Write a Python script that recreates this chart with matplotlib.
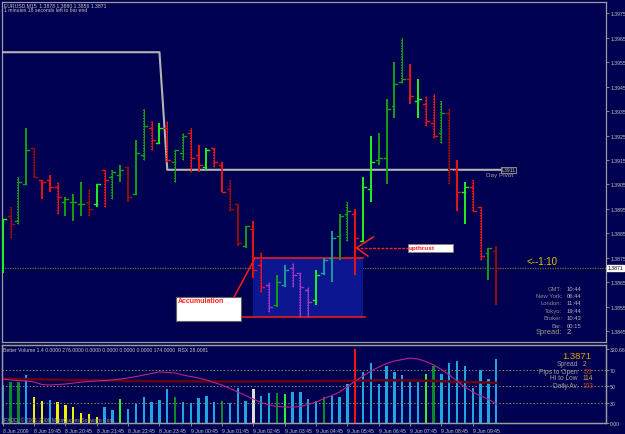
import numpy as np
import matplotlib.pyplot as plt
from matplotlib.patches import Rectangle

plt.rcParams['font.family'] = ['Liberation Sans', 'DejaVu Sans']

W, H = 625, 435
BG = '#000050'
FRAME = '#9c9c9c'
TXT = '#c4c4c4'

# EURUSD M15, 8 Jun 2009 18:45 .. 9 Jun 10:30 (one bar per 15 min)
opens = [1.3872, 1.3892, 1.3890, 1.3905, 1.3920, 1.3907, 1.3907, 1.3904, 1.3898, 1.3898,
         1.3897, 1.3898, 1.3897, 1.3911, 1.3908, 1.3909, 1.3912, 1.3901, 1.3917, 1.3928,
         1.3922, 1.3928, 1.3914, 1.3918, 1.3926, 1.3917, 1.3912, 1.3920, 1.3913, 1.3903,
         1.3897, 1.3880, 1.3887, 1.3872, 1.3864, 1.3856, 1.3864, 1.3871, 1.3869, 1.3862,
         1.3858, 1.3869, 1.3875, 1.3884, 1.3893, 1.3893, 1.3882, 1.3903, 1.3915, 1.3916,
         1.3937, 1.3947, 1.3948, 1.3939, 1.3938, 1.3930, 1.3926, 1.3934, 1.3911, 1.3902,
         1.3904, 1.3896, 1.3877, 1.3878]
highs = [1.3891, 1.3896, 1.3908, 1.3928, 1.3920, 1.3907, 1.3909, 1.3906, 1.3900, 1.3901,
         1.3906, 1.3903, 1.3905, 1.3911, 1.3911, 1.3913, 1.3912, 1.3923, 1.3936, 1.3931,
         1.3930, 1.3931, 1.3919, 1.3926, 1.3928, 1.3921, 1.3920, 1.3920, 1.3914, 1.3907,
         1.3897, 1.3888, 1.3890, 1.3877, 1.3865, 1.3868, 1.3872, 1.3873, 1.3869, 1.3863,
         1.3870, 1.3875, 1.3886, 1.3893, 1.3898, 1.3895, 1.3908, 1.3925, 1.3926, 1.3940,
         1.3955, 1.3965, 1.3954, 1.3948, 1.3941, 1.3942, 1.3939, 1.3936, 1.3915, 1.3906,
         1.3907, 1.3896, 1.3879, 1.3880]
lows = [1.3869, 1.3883, 1.3889, 1.3905, 1.3908, 1.3899, 1.3902, 1.3893, 1.3892, 1.3890,
        1.3892, 1.3892, 1.3896, 1.3896, 1.3899, 1.3906, 1.3898, 1.3901, 1.3915, 1.3919,
        1.3922, 1.3914, 1.3906, 1.3915, 1.3910, 1.3910, 1.3911, 1.3912, 1.3902, 1.3894,
        1.3880, 1.3879, 1.3867, 1.3861, 1.3853, 1.3855, 1.3863, 1.3863, 1.3851, 1.3851,
        1.3856, 1.3868, 1.3865, 1.3874, 1.3882, 1.3868, 1.3882, 1.3898, 1.3913, 1.3905,
        1.3932, 1.3947, 1.3938, 1.3932, 1.3929, 1.3924, 1.3922, 1.3905, 1.3894, 1.3889,
        1.3894, 1.3874, 1.3866, 1.3856]
closes = [1.3891, 1.3889, 1.3906, 1.3919, 1.3908, 1.3906, 1.3904, 1.3900, 1.3899, 1.3898,
          1.3897, 1.3895, 1.3905, 1.3907, 1.3910, 1.3911, 1.3900, 1.3918, 1.3929, 1.3923,
          1.3928, 1.3915, 1.3919, 1.3925, 1.3916, 1.3913, 1.3919, 1.3914, 1.3902, 1.3895,
          1.3881, 1.3888, 1.3870, 1.3863, 1.3855, 1.3865, 1.3870, 1.3868, 1.3863, 1.3857,
          1.3868, 1.3874, 1.3883, 1.3892, 1.3894, 1.3883, 1.3904, 1.3914, 1.3916, 1.3936,
          1.3946, 1.3948, 1.3941, 1.3940, 1.3931, 1.3925, 1.3934, 1.3911, 1.3902, 1.3904,
          1.3894, 1.3876, 1.3879, 1.3871]
bar_codes = "LDGGDRRRGG" "GDLRGGDGGR" "LRGGRRLRRD" "DGRRPGTPPP" "LTTGGRLLGG" "GGRLRRGDRL" "RRGD"
bar_dotted = "0110100100" "0101100011" "0111100101" "0001100111" "0000100000" "0100111100" "1100"

volumes = [165, 178, 178, 208, 113, 95, 100, 91, 78, 69,
           43, 39, 26, 69, 56, 104, 61, 82, 113, 91,
           100, 147, 113, 91, 87, 108, 117, 91, 95, 87,
           152, 95, 147, 117, 130, 130, 126, 134, 134, 104,
           95, 113, 117, 113, 169, 320, 221, 260, 169, 247,
           221, 208, 178, 178, 212, 247, 212, 260, 268, 247,
           152, 230, 191, 276]
vol_codes = "CggCYYCYYY" "YYYCCBCCCC" "CCgCCCCCgC" "CCWCCgBCCC" "CgCCCRCCCC" "CCCCBgCCCC" "CCCC"
vol_ma = [192, 192, 191, 190, 190, 189, 188, 188, 187, 186, 186, 185, 185, 184, 184, 183,
          182, 182, 182, 181, 181, 181, 181, 181, 180, 180, 180, 180, 180, 180, 180, 180,
          180, 180, 181, 181, 181, 181, 181, 181, 182, 182, 182, 182, 183, 183, 184, 184,
          185, 185, 185, 185, 184, 184, 183, 182, 181, 180, 179, 178, 177, 176, 175, 174]
rsx = [58.5, 57.3, 56.7, 56.1, 54.8, 51.8, 51.2, 51.8, 52.4, 53.6, 54.8, 55.5, 56.1, 56.7, 57.3, 58.5,
       59.7, 61.5, 63.3, 65.2, 67.0, 66.4, 65.8, 63.3, 61.5, 59.7, 57.3, 54.2, 51.2, 47.0, 42.7, 38.5,
       34.2, 30.0, 27.0, 25.2, 24.5, 24.5, 25.2, 27.6, 30.6, 34.8, 38.5, 42.7, 49.4, 56.1, 62.1, 68.2,
       73.0, 77.3, 80.3, 82.1, 83.9, 82.7, 79.7, 75.5, 70.0, 63.3, 56.1, 48.8, 42.7, 37.9, 34.2, 28.0]
rsx_levels = [30, 50, 70]

pivot_levels = [1.3959, 1.3911]
new_day_bar = 21
zone_bars = [32, 46]
zone_prices = [1.3851, 1.3875]
upthrust_bar = 45

price_ticks = [1.3845, 1.3855, 1.3865, 1.3875, 1.3885, 1.3895, 1.3905,
               1.3915, 1.3925, 1.3935, 1.3945, 1.3955, 1.3965, 1.3975]
time_labels = ["8 Jun 2009", "8 Jun 19:45", "8 Jun 20:45", "8 Jun 21:45", "8 Jun 22:45",
               "8 Jun 23:45", "9 Jun 00:45", "9 Jun 01:45", "9 Jun 02:45", "9 Jun 03:45",
               "9 Jun 04:45", "9 Jun 05:45", "9 Jun 06:45", "9 Jun 07:45", "9 Jun 08:45",
               "9 Jun 09:45"]

bar_palette = {'G': '#149e14', 'L': '#22f022', 'R': '#e81414', 'D': '#960c0c',
               'P': '#9a34c4', 'T': '#1a9a9a'}
vol_palette = {'C': '#1ea6e4', 'g': '#0c8a2c', 'B': '#30f030', 'Y': '#f0f000',
               'R': '#ff1010', 'W': '#dcdcdc'}


def px(x, y):
    return x / W, 1 - y / H


fig = plt.figure(figsize=(W / 100, H / 100), dpi=100, facecolor=BG)
ax = fig.add_axes([2 / W, 1 - 343 / H, 604 / W, 340 / H], facecolor=BG)
vax = fig.add_axes([2 / W, 1 - 424 / H, 604 / W, 78 / H], facecolor=BG)
rax = vax.twinx()

n = len(opens)
idx = np.arange(n)
XL = (-0.1, 77.0)

# ---- main price window
TK = 0.38
for i in idx:
    col = bar_palette[bar_codes[i]]
    if bar_dotted[i] == '1':
        # MT4 draws these half solid, half dotted
        ax.plot([i, i], [lows[i], highs[i]], color=col, lw=0.75, solid_capstyle='butt', zorder=5)
        ax.plot([i, i], [lows[i], highs[i]], color=col, lw=1.4, ls=(0, (0.7, 0.7)), zorder=5)
    else:
        ax.plot([i, i], [lows[i], highs[i]], color=col, lw=1.4, solid_capstyle='butt', zorder=5)
    ax.plot([i - TK, i], [opens[i], opens[i]], color=col, lw=1.0, zorder=5)
    ax.plot([i, i + TK], [closes[i], closes[i]], color=col, lw=1.0, zorder=5)

# accumulation zone
ax.add_patch(Rectangle((zone_bars[0] - 0.06, zone_prices[0]), zone_bars[1] - zone_bars[0],
                       zone_prices[1] - zone_prices[0], facecolor='#0c1690', edgecolor='none',
                       zorder=2))
ax.plot([zone_bars[0] - 0.06, zone_bars[1]], [zone_prices[1]] * 2, color='#ff1a1a', lw=1.1, zorder=3)
ax.plot([30.4, zone_bars[1] + 0.2], [zone_prices[0]] * 2, color='#ff1a1a', lw=1.1, zorder=3)
ax.plot([29.4, 32.2], [1.38583, zone_prices[1]], color='#ff1a1a', lw=1.1, zorder=6)

# current price line
ax.axhline(closes[-1], color='#6c6c40', lw=0.9, ls=(0, (1, 1)), zorder=1)

# day pivot
ax.plot([XL[0], new_day_bar - 1, new_day_bar, 63.6],
        [pivot_levels[0], pivot_levels[0], pivot_levels[1], pivot_levels[1]],
        color='#b4b4b4', lw=1.5, zorder=4)
ax.add_patch(Rectangle((63.6, pivot_levels[1] - 0.00013), 1.9, 0.00025, facecolor='#101040',
                       edgecolor='#9a9a9a', lw=0.6, zorder=6))
ax.text(64.55, pivot_levels[1], '%.4f' % pivot_levels[1], fontsize=3.6, color='#b0b0b0',
        ha='center', va='center', zorder=7)
ax.text(65.2, pivot_levels[1] - 0.0002, 'Day Pivot', fontsize=4.6, color='#a0a0a0',
        ha='right', va='center', zorder=7)

# upthrust arrow + label
tip = 1.38791
ax.plot([upthrust_bar + 0.13, 51.7], [tip, tip], color='#ff2020', lw=1.0, ls=(0, (2, 1)), zorder=6)
ax.plot([47.3, upthrust_bar + 0.13, 46.6], [1.38836, tip, 1.38758], color='#ff2020', lw=1.1, zorder=6)
ax.add_patch(Rectangle((51.7, 1.38774), 5.8, 0.00033, facecolor='white', edgecolor='#808080',
                       lw=0.6, zorder=7))
ax.text(51.85, 1.38792, 'upthrust', fontsize=4.6, color='#ff2020', fontweight='bold',
        ha='left', va='center', zorder=8)

# accumulation label
ax.add_patch(Rectangle((22.1, 1.38493), 8.3, 0.00098, facecolor='white', edgecolor='#606060',
                       lw=0.8, zorder=7))
ax.text(22.3, 1.38575, 'Accumulation', fontsize=5, color='#ff2020', fontweight='bold',
        ha='left', va='center', zorder=8)

ax.text(66.9, 1.38738, '<--1:10', fontsize=7, color='#d8c800', ha='left', va='center')

ax.set_xlim(*XL)
ax.set_ylim(1.38407, 1.39795)
ax.set_xticks([])
ax.yaxis.tick_right()
ax.set_yticks(price_ticks, labels=['%.4f' % p for p in price_ticks])
ax.tick_params(axis='y', length=2, width=0.6, color=FRAME, labelsize=3.7, labelcolor=TXT, pad=1)
ax.text(1.003, closes[-1], '%.4f' % closes[-1], transform=ax.get_yaxis_transform(),
        fontsize=3.7, color='black', ha='left', va='center',
        bbox=dict(boxstyle='square,pad=0.15', fc='white', ec='white'), clip_on=False)

# ---- volume / RSX window
vax.bar(idx, volumes, width=0.3, color=[vol_palette[c] for c in vol_codes], zorder=2)
vax.plot(idx, vol_ma, color='#6a0010', lw=1.8, zorder=3)
for lv in rsx_levels:
    rax.axhline(lv, color='#8a8a58', lw=0.7, ls=(0, (1.5, 2)))
rax.plot(idx, rsx, color='#b82488', lw=0.8)

vax.set_xlim(*XL)
vax.set_ylim(0, 338)
rax.set_ylim(5.2, 99.7)
vax.yaxis.tick_right()
vax.set_yticks([0, 320.66], labels=['0.00', '320.66'])
rax.set_yticks(rsx_levels, labels=[str(v) for v in rsx_levels])
for a in (vax, rax):
    a.tick_params(axis='y', length=2, width=0.6, color=FRAME, labelsize=3.7, labelcolor=TXT, pad=1)
vax.set_xticks(np.arange(0, n, 4), labels=time_labels)
vax.tick_params(axis='x', length=2, width=0.6, color=FRAME, labelsize=3.7, labelcolor=TXT, pad=1.5)
for lbl in vax.get_xticklabels():
    lbl.set_ha('left')

for a in (ax, vax, rax):
    for s in a.spines.values():
        s.set_color(FRAME)
        s.set_linewidth(0.9)

# ---- overlay texts
fig.text(*px(4, 6), 'EURUSD,M15  1.3878 1.3880 1.3856 1.3871', fontsize=3.7, color=TXT, va='center')
fig.text(*px(4, 11), '1 minutes 18 seconds left to bar end', fontsize=3.7, color=TXT, va='center')
fig.text(*px(3, 351), 'Better Volume 1.4 0.0000 276.0000 0.0000 0.0000 0.0000 0.0000 174.0000  RSX 28.0081',
         fontsize=3.7, color=TXT, va='center')
fig.text(*px(4, 420), 'FXDD, \u00a9 2001-2009 MetaQuotes Software Corp.', fontsize=3.7,
         color='#a0a0a0', va='center')

clock_names = ['GMT:', 'New York:', 'London:', 'Tokyo:', 'Broker:', 'Bar:']
clock_values = ['10:44', '06:44', '11:44', '19:44', '10:43', '00:15']
clock_rows = [290, 297, 304, 312, 319, 326]
for name, val, yy in zip(clock_names, clock_values, clock_rows):
    fig.text(*px(562, yy), name, fontsize=4.2, color='#8c8c8c', ha='right', va='center')
    fig.text(*px(567, yy), val, fontsize=4.2, color='#b8b8b8', ha='left', va='center')
fig.text(*px(562, 333), 'Spread:', fontsize=5.4, color='#a09c88', ha='right', va='center')
fig.text(*px(567, 333), '2', fontsize=5.4, color='#b8b8b8', ha='left', va='center')

fig.text(*px(591, 357), '%.4f' % closes[-1], fontsize=6.8, color='#e8a000', ha='right', va='center')
stat_names = ['Spread', 'Pips to Open', 'Hi to Low', 'Daily Av.']
stat_values = ['2', '-53', '114', '103']
stat_colors = ['#d0a040', '#d04020', '#d0a040', '#d04020']
stat_rows = [365, 372, 379, 387]
for name, val, c, yy in zip(stat_names, stat_values, stat_colors, stat_rows):
    fig.text(*px(578, yy), name, fontsize=4.8, color='#a0a0a0', ha='right', va='center')
    fig.text(*px(583, yy), val, fontsize=4.8, color=c, ha='left', va='center')

fig.savefig('out.png', dpi=100, facecolor=BG)
